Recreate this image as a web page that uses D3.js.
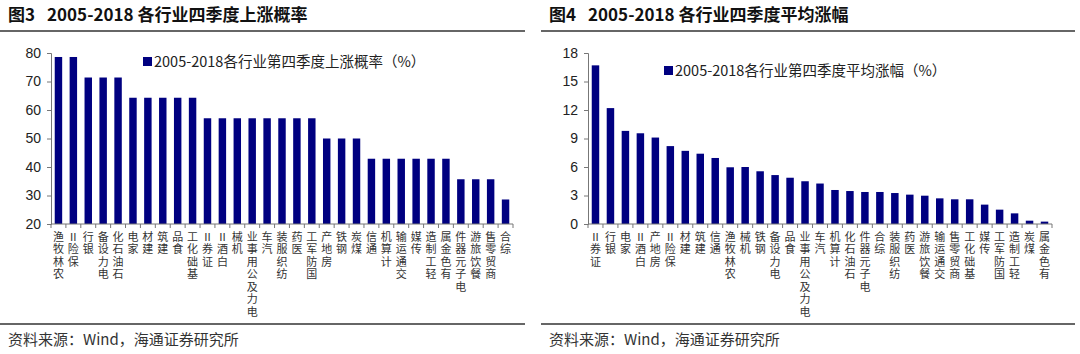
<!DOCTYPE html>
<html>
<head>
<meta charset="utf-8">
<script src="https://cdn.jsdelivr.net/npm/d3@7"></script>
<style>
  body { margin: 0; background: #fff; }
  svg { display: block; }
  text { font-family: "Noto Sans CJK SC", "DejaVu Sans", sans-serif; }
  text.cat { writing-mode: vertical-rl; text-orientation: upright; }
</style>
</head>
<body>
<script>
var w = 1080,
    h = 354;

// 图3 data
var probCats = ['农林牧渔','保险Ⅱ','银行','电力设备','石油石化','家电','建材','建筑','食品','基础化工',
                '证券Ⅱ','白酒Ⅱ','机械','电力及公用事业','汽车','纺织服装','医药','国防军工',
                '房地产','钢铁','煤炭','通信','计算机','交通运输','传媒','轻工制造','有色金属',
                '电子元器件','餐饮旅游','商贸零售','综合'];
var probVals = [78.6,78.6,71.4,71.4,71.4,64.3,64.3,64.3,64.3,64.3,
                57.1,57.1,57.1,57.1,57.1,57.1,57.1,57.1,
                50,50,50,42.9,42.9,42.9,42.9,42.9,42.9,
                35.7,35.7,35.7,28.6];
var probTicks = [20,30,40,50,60,70,80];

// 图4 data
var gainCats = ['证券Ⅱ','银行','家电','白酒Ⅱ','房地产','保险Ⅱ','建材','建筑','通信','农林牧渔',
                '机械','钢铁','电力设备','食品','电力及公用事业','汽车','计算机','石油石化',
                '电子元器件','综合','纺织服装','医药','餐饮旅游','交通运输','商贸零售','基础化工',
                '传媒','国防军工','轻工制造','煤炭','有色金属'];
var gainVals = [16.7,12.2,9.8,9.55,9.1,8.2,7.7,7.4,6.95,5.97,
                6.0,5.55,5.15,4.87,4.5,4.26,3.58,3.47,3.37,3.37,
                3.26,3.09,2.98,2.7,2.6,2.6,2.04,1.51,1.12,0.35,0.25];
var gainTicks = [0,3,6,9,12,15,18];

var svg = d3.select('body')
            .append('svg')
            .attr('width', w)
            .attr('height', h);

function drawPanel(opt) {
  var g = svg.append('g');

  // title
  var title = g.append('text')
     .attr('x', opt.left + 8)
     .attr('y', 21)
     .style('font-size', '17px')
     .style('font-weight', 'bold')
     .style('fill', '#111');
  title.append('tspan').text(opt.fig);
  title.append('tspan').attr('dx', 12).text(opt.title);

  // rules
  g.append('line')
   .attr('x1', opt.left).attr('x2', opt.right)
   .attr('y1', 31).attr('y2', 31)
   .style('stroke', '#333').style('stroke-width', 1.3);
  g.append('line')
   .attr('x1', opt.left).attr('x2', opt.right)
   .attr('y1', 324).attr('y2', 324)
   .style('stroke', '#333').style('stroke-width', 1.3);

  // source
  g.append('text')
   .attr('x', opt.left + 8)
   .attr('y', 345)
   .style('font-size', '15px')
   .style('fill', '#333')
   .text('资料来源：Wind，海通证券研究所');

  var x = d3.scaleBand()
            .domain(opt.cats)
            .range([opt.x0, opt.x1])
            .paddingInner(0.5)
            .paddingOuter(0.25);

  var y = d3.scaleLinear()
            .domain([opt.ticks[0], opt.ticks[opt.ticks.length - 1]])
            .range([224, 53]);

  // bars
  g.selectAll('rect.bar')
   .data(opt.vals)
   .enter()
   .append('rect')
   .attr('class', 'bar')
   .attr('x', function(d, i) { return x(opt.cats[i]); })
   .attr('y', function(d) { return y(d); })
   .attr('width', x.bandwidth())
   .attr('height', function(d) { return 224 - y(d); })
   .style('fill', '#000080');

  // y axis
  var yAxis = g.append('g')
     .attr('transform', 'translate(' + opt.x0 + ',0)')
     .call(d3.axisLeft(y).tickValues(opt.ticks).tickSize(4).tickPadding(6));
  yAxis.selectAll('text')
       .style('font-family', '"Liberation Sans", Arial, sans-serif')
       .style('font-size', '14px')
       .style('fill', '#222');
  yAxis.selectAll('line, path').style('stroke', '#777');

  // x axis: line + ticks at band boundaries
  g.append('line')
   .attr('x1', opt.x0).attr('x2', opt.x1)
   .attr('y1', 224).attr('y2', 224)
   .style('stroke', '#777');
  var bounds = d3.range(opt.cats.length + 1).map(function(i) {
    return opt.x0 + i * (opt.x1 - opt.x0) / opt.cats.length;
  });
  g.selectAll('line.xt')
   .data(bounds)
   .enter()
   .append('line')
   .attr('class', 'xt')
   .attr('x1', function(d) { return d; })
   .attr('x2', function(d) { return d; })
   .attr('y1', 224).attr('y2', 228)
   .style('stroke', '#777');

  // category labels: upright characters stacked bottom-to-top
  g.selectAll('text.cat')
   .data(opt.cats)
   .enter()
   .append('text')
   .attr('class', 'cat')
   .attr('x', function(d) { return x(d) + x.bandwidth() / 2; })
   .attr('y', 231)
   .style('font-size', '11px')
   .style('letter-spacing', '1.5px')
   .style('fill', '#333')
   .text(function(d) { return Array.from(d).reverse().join(''); });

  // legend
  g.append('rect')
   .attr('x', opt.legX).attr('y', opt.legY - 5)
   .attr('width', 9).attr('height', 9)
   .style('fill', '#000080');
  g.append('text')
   .attr('x', opt.legX + 11).attr('y', opt.legY + 5)
   .style('font-size', '14.5px')
   .style('fill', '#222')
   .text(opt.legend);
}

drawPanel({
  left: 0, right: 525,
  fig: '图3', title: '2005-2018 各行业四季度上涨概率',
  cats: probCats, vals: probVals, ticks: probTicks,
  x0: 51, x1: 513,
  legX: 143, legY: 62,
  legend: '2005-2018各行业第四季度上涨概率（%）'
});

drawPanel({
  left: 541, right: 1075,
  fig: '图4', title: '2005-2018 各行业四季度平均涨幅',
  cats: gainCats, vals: gainVals, ticks: gainTicks,
  x0: 588, x1: 1052,
  legX: 664, legY: 71,
  legend: '2005-2018各行业第四季度平均涨幅（%）'
});
</script>
</body>
</html>
